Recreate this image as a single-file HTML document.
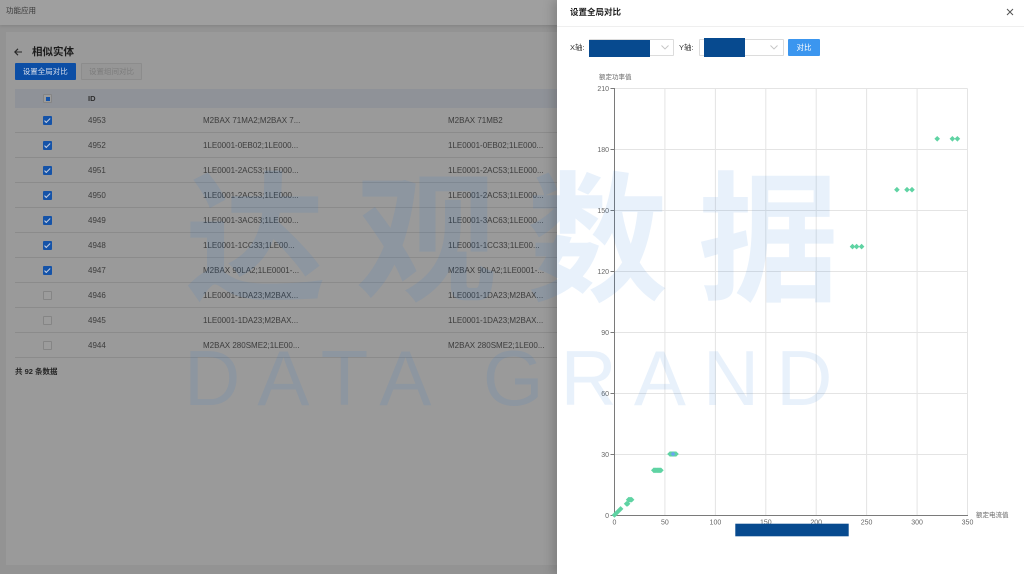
<!DOCTYPE html>
<html><head><meta charset="utf-8">
<style>
*{margin:0;padding:0;box-sizing:border-box}
html,body{width:1024px;height:574px;overflow:hidden;background:#939393;font-family:"Liberation Sans","Noto Sans CJK SC",sans-serif}
.a{position:absolute}
.t{position:absolute;white-space:nowrap}
.row{position:absolute;left:15px;width:542px;height:25px;border-bottom:1px solid #8b8b8b}
.row .c{position:absolute;left:28px;top:8px;width:9px;height:9px;border-radius:1px}
.row .c.on{background:#1553a8}
.row .c.on:after{content:"";position:absolute;left:3px;top:1px;width:2px;height:4.5px;border:solid #c9d2e2;border-width:0 1px 1px 0;transform:rotate(45deg)}
.row .c.off{border:1px solid #858585;background:#9c9c9c}
.row span{position:absolute;top:0;line-height:25px;font-size:8px;color:#3c3c3c}
</style></head><body>
<div class="a" style="left:0;top:0;width:1024px;height:574px;overflow:hidden">

<!-- header bar -->
<div class="a" style="left:0;top:0;width:1024px;height:25px;background:#9f9f9f;box-shadow:0 1px 3px rgba(0,0,0,0.12)"></div>
<div class="t" style="left:6px;top:5px;font-size:7.5px;line-height:12px;color:#383838">功能应用</div>

<!-- card -->
<div class="a" style="left:6px;top:32px;width:1010px;height:533px;background:#9a9a9a"></div>
<svg class="a" style="left:13px;top:47px" width="10" height="10" viewBox="0 0 10 10"><path d="M9 5H2M5 1.8L1.8 5 5 8.2" stroke="#262626" stroke-width="1.1" fill="none"/></svg>
<div class="t" style="left:32px;top:45px;font-size:10.5px;line-height:14px;font-weight:bold;color:#1c1c1c">相似实体</div>
<div class="a" style="left:14.5px;top:63px;width:61.5px;height:17px;background:#0c4ea5;border-radius:1px;color:#d6deec;font-size:7.5px;line-height:17px;text-align:center">设置全局对比</div>
<div class="a" style="left:81px;top:63px;width:61px;height:17px;background:#969696;border:1px solid #8c8c8c;border-radius:1px;color:#7c7c7c;font-size:7.5px;line-height:15px;text-align:center">设置组间对比</div>

<!-- table header -->
<div class="a" style="left:15px;top:89px;width:542px;height:19px;background:#8f9298"></div>
<div class="a" style="left:43px;top:94px;width:9px;height:9px;background:#9c9c9c;border:1px solid #858585;border-radius:1px"></div>
<div class="a" style="left:45.5px;top:96.5px;width:4px;height:4px;background:#1553a8"></div>
<div class="t" style="left:88px;top:89px;font-size:7.5px;line-height:19px;color:#2e2e2e;font-weight:bold">ID</div>

<div class="row" style="top:108px;height:25px"><div class="c on"></div><span style="left:73px">4953</span><span style="left:188px">M2BAX 71MA2;M2BAX 7...</span><span style="left:433px">M2BAX 71MB2</span></div>
<div class="row" style="top:133px"><div class="c on"></div><span style="left:73px">4952</span><span style="left:188px">1LE0001-0EB02;1LE000...</span><span style="left:433px">1LE0001-0EB02;1LE000...</span></div>
<div class="row" style="top:158px"><div class="c on"></div><span style="left:73px">4951</span><span style="left:188px">1LE0001-2AC53;1LE000...</span><span style="left:433px">1LE0001-2AC53;1LE000...</span></div>
<div class="row" style="top:183px"><div class="c on"></div><span style="left:73px">4950</span><span style="left:188px">1LE0001-2AC53;1LE000...</span><span style="left:433px">1LE0001-2AC53;1LE000...</span></div>
<div class="row" style="top:208px"><div class="c on"></div><span style="left:73px">4949</span><span style="left:188px">1LE0001-3AC63;1LE000...</span><span style="left:433px">1LE0001-3AC63;1LE000...</span></div>
<div class="row" style="top:233px"><div class="c on"></div><span style="left:73px">4948</span><span style="left:188px">1LE0001-1CC33;1LE00...</span><span style="left:433px">1LE0001-1CC33;1LE00...</span></div>
<div class="row" style="top:258px"><div class="c on"></div><span style="left:73px">4947</span><span style="left:188px">M2BAX 90LA2;1LE0001-...</span><span style="left:433px">M2BAX 90LA2;1LE0001-...</span></div>
<div class="row" style="top:283px"><div class="c off"></div><span style="left:73px">4946</span><span style="left:188px">1LE0001-1DA23;M2BAX...</span><span style="left:433px">1LE0001-1DA23;M2BAX...</span></div>
<div class="row" style="top:308px"><div class="c off"></div><span style="left:73px">4945</span><span style="left:188px">1LE0001-1DA23;M2BAX...</span><span style="left:433px">1LE0001-1DA23;M2BAX...</span></div>
<div class="row" style="top:333px"><div class="c off"></div><span style="left:73px">4944</span><span style="left:188px">M2BAX 280SME2;1LE00...</span><span style="left:433px">M2BAX 280SME2;1LE00...</span></div>
<div class="t" style="left:15px;top:366px;font-size:7.5px;line-height:12px;color:#262626;font-weight:bold">共 92 条数据</div>

<!-- right panel -->
<div class="a" style="left:557px;top:0;width:467px;height:574px;background:#fff;box-shadow:-4px 0 10px rgba(0,0,0,0.18)"></div>
<div class="t" style="left:570px;top:5px;font-size:8.5px;line-height:14px;color:#1f1f1f;font-weight:600">设置全局对比</div>
<svg class="a" style="left:1006px;top:8px" width="8" height="8" viewBox="0 0 8 8"><path d="M1 1L7 7M7 1L1 7" stroke="#555" stroke-width="1"/></svg>
<div class="a" style="left:557px;top:26px;width:467px;height:1px;background:#efefef"></div>

<div class="t" style="left:570px;top:41px;font-size:7.5px;line-height:14px;color:#333">X轴:</div>
<div class="a" style="left:589px;top:39px;width:85px;height:17px;border:1px solid #dcdcdc;border-radius:1px"></div>
<div class="a" style="left:589px;top:39.5px;width:61px;height:17px;background:#074a8f"></div>
<svg class="a" style="left:661px;top:45px" width="8" height="5" viewBox="0 0 8 5"><path d="M0.5 0.5L4 4 7.5 0.5" stroke="#c4c4c4" stroke-width="0.9" fill="none"/></svg>
<div class="t" style="left:679px;top:41px;font-size:7.5px;line-height:14px;color:#333">Y轴:</div>
<div class="a" style="left:699px;top:39px;width:85px;height:17px;border:1px solid #dcdcdc;border-radius:1px"></div>
<div class="a" style="left:704px;top:37.7px;width:41px;height:19.6px;background:#074a8f"></div>
<svg class="a" style="left:770px;top:45px" width="8" height="5" viewBox="0 0 8 5"><path d="M0.5 0.5L4 4 7.5 0.5" stroke="#c4c4c4" stroke-width="0.9" fill="none"/></svg>
<div class="a" style="left:788px;top:39px;width:32px;height:17px;background:#3b96ef;border-radius:1px;color:#fff;font-size:7.5px;line-height:17px;text-align:center">对比</div>

<!-- chart -->
<svg class="a" style="left:0;top:0" width="1024" height="574" viewBox="0 0 1024 574" font-family="Liberation Sans, Noto Sans CJK SC, sans-serif">
<g stroke="#e4e4e4" stroke-width="1">
<path d="M614.5 88.5H967.5M614.5 149.5H967.5M614.5 210.5H967.5M614.5 271.5H967.5M614.5 332.5H967.5M614.5 393.5H967.5M614.5 454.5H967.5"/>
<path d="M664.9 88.5V515M715.4 88.5V515M765.8 88.5V515M816.2 88.5V515M866.6 88.5V515M917.1 88.5V515M967.5 88.5V515"/>
</g>
<g stroke="#7a7a7a" stroke-width="1">
<path d="M614.5 88V515.5M614 515.5H968"/>
<path d="M610.5 88.5H614.5M610.5 149.5H614.5M610.5 210.5H614.5M610.5 271.5H614.5M610.5 332.5H614.5M610.5 393.5H614.5M610.5 454.5H614.5M610.5 515.5H614.5"/>
</g>
<g font-size="7" fill="#666" text-anchor="end">
<text x="609" y="91">210</text><text x="609" y="152">180</text><text x="609" y="213">150</text><text x="609" y="274">120</text><text x="609" y="335">90</text><text x="609" y="396">60</text><text x="609" y="457">30</text><text x="609" y="518">0</text>
</g>
<g font-size="7" fill="#666" text-anchor="middle">
<text x="614.5" y="524.5">0</text><text x="664.9" y="524.5">50</text><text x="715.4" y="524.5">100</text><text x="765.8" y="524.5">150</text><text x="816.2" y="524.5">200</text><text x="866.6" y="524.5">250</text><text x="917.1" y="524.5">300</text><text x="967.5" y="524.5">350</text>
</g>
<text x="599" y="79" font-size="6.5" fill="#666">额定功率值</text>
<text x="976" y="517" font-size="6.5" fill="#666">额定电流值</text>
<path fill="#5fd3a3" d="M614.5 512.2l2.8 2.8-2.8 2.8-2.8-2.8zM615.5 511.2l2.8 2.8-2.8 2.8-2.8-2.8zM616.5 510.2l2.8 2.8-2.8 2.8-2.8-2.8zM617.5 509.2l2.8 2.8-2.8 2.8-2.8-2.8zM618.5 508.2l2.8 2.8-2.8 2.8-2.8-2.8zM619.5 507.2l2.8 2.8-2.8 2.8-2.8-2.8zM620.6 506.1l2.8 2.8-2.8 2.8-2.8-2.8zM626.6 501l2.8 2.8-2.8 2.8-2.8-2.8zM627.6 501l2.8 2.8-2.8 2.8-2.8-2.8zM628.6 496.9l2.8 2.8-2.8 2.8-2.8-2.8zM629.6 496.9l2.8 2.8-2.8 2.8-2.8-2.8zM630.6 496.9l2.8 2.8-2.8 2.8-2.8-2.8zM631.6 496.9l2.8 2.8-2.8 2.8-2.8-2.8zM653.8 467.5l2.8 2.8-2.8 2.8-2.8-2.8zM654.8 467.5l2.8 2.8-2.8 2.8-2.8-2.8zM655.8 467.5l2.8 2.8-2.8 2.8-2.8-2.8zM656.9 467.5l2.8 2.8-2.8 2.8-2.8-2.8zM657.9 467.5l2.8 2.8-2.8 2.8-2.8-2.8zM658.9 467.5l2.8 2.8-2.8 2.8-2.8-2.8zM659.9 467.5l2.8 2.8-2.8 2.8-2.8-2.8zM660.9 467.5l2.8 2.8-2.8 2.8-2.8-2.8zM670 451.2l2.8 2.8-2.8 2.8-2.8-2.8zM671 451.2l2.8 2.8-2.8 2.8-2.8-2.8zM672 451.2l2.8 2.8-2.8 2.8-2.8-2.8zM673 451.2l2.8 2.8-2.8 2.8-2.8-2.8zM674 451.2l2.8 2.8-2.8 2.8-2.8-2.8zM675 451.2l2.8 2.8-2.8 2.8-2.8-2.8zM676 451.2l2.8 2.8-2.8 2.8-2.8-2.8zM852.5 243.8l2.8 2.8-2.8 2.8-2.8-2.8zM856.6 243.8l2.8 2.8-2.8 2.8-2.8-2.8zM861.6 243.8l2.8 2.8-2.8 2.8-2.8-2.8zM896.9 186.9l2.8 2.8-2.8 2.8-2.8-2.8zM907 186.9l2.8 2.8-2.8 2.8-2.8-2.8zM912 186.9l2.8 2.8-2.8 2.8-2.8-2.8zM937.2 136l2.8 2.8-2.8 2.8-2.8-2.8zM952.4 136l2.8 2.8-2.8 2.8-2.8-2.8zM957.4 136l2.8 2.8-2.8 2.8-2.8-2.8z"/>
<path fill="#6aa6ee" d="M673 451.6l2.4 2.4-2.4 2.4-2.4-2.4z"/>
<rect x="735.3" y="523.7" width="113.4" height="12.6" fill="#074a8f"/>
</svg>

<!-- watermark -->
<div class="t" style="left:185px;top:158px;font-size:141px;line-height:1;letter-spacing:30px;font-weight:bold;font-family:'Noto Sans CJK SC','WenQuanYi Zen Hei',sans-serif;color:rgba(30,120,220,0.1);pointer-events:none">达观数据</div>
<div class="t" style="left:184px;top:339px;font-size:78px;line-height:1;letter-spacing:17px;font-family:'Liberation Sans',sans-serif;color:rgba(30,120,220,0.1);pointer-events:none">DATA GRAND</div>

</div>
</body></html>
